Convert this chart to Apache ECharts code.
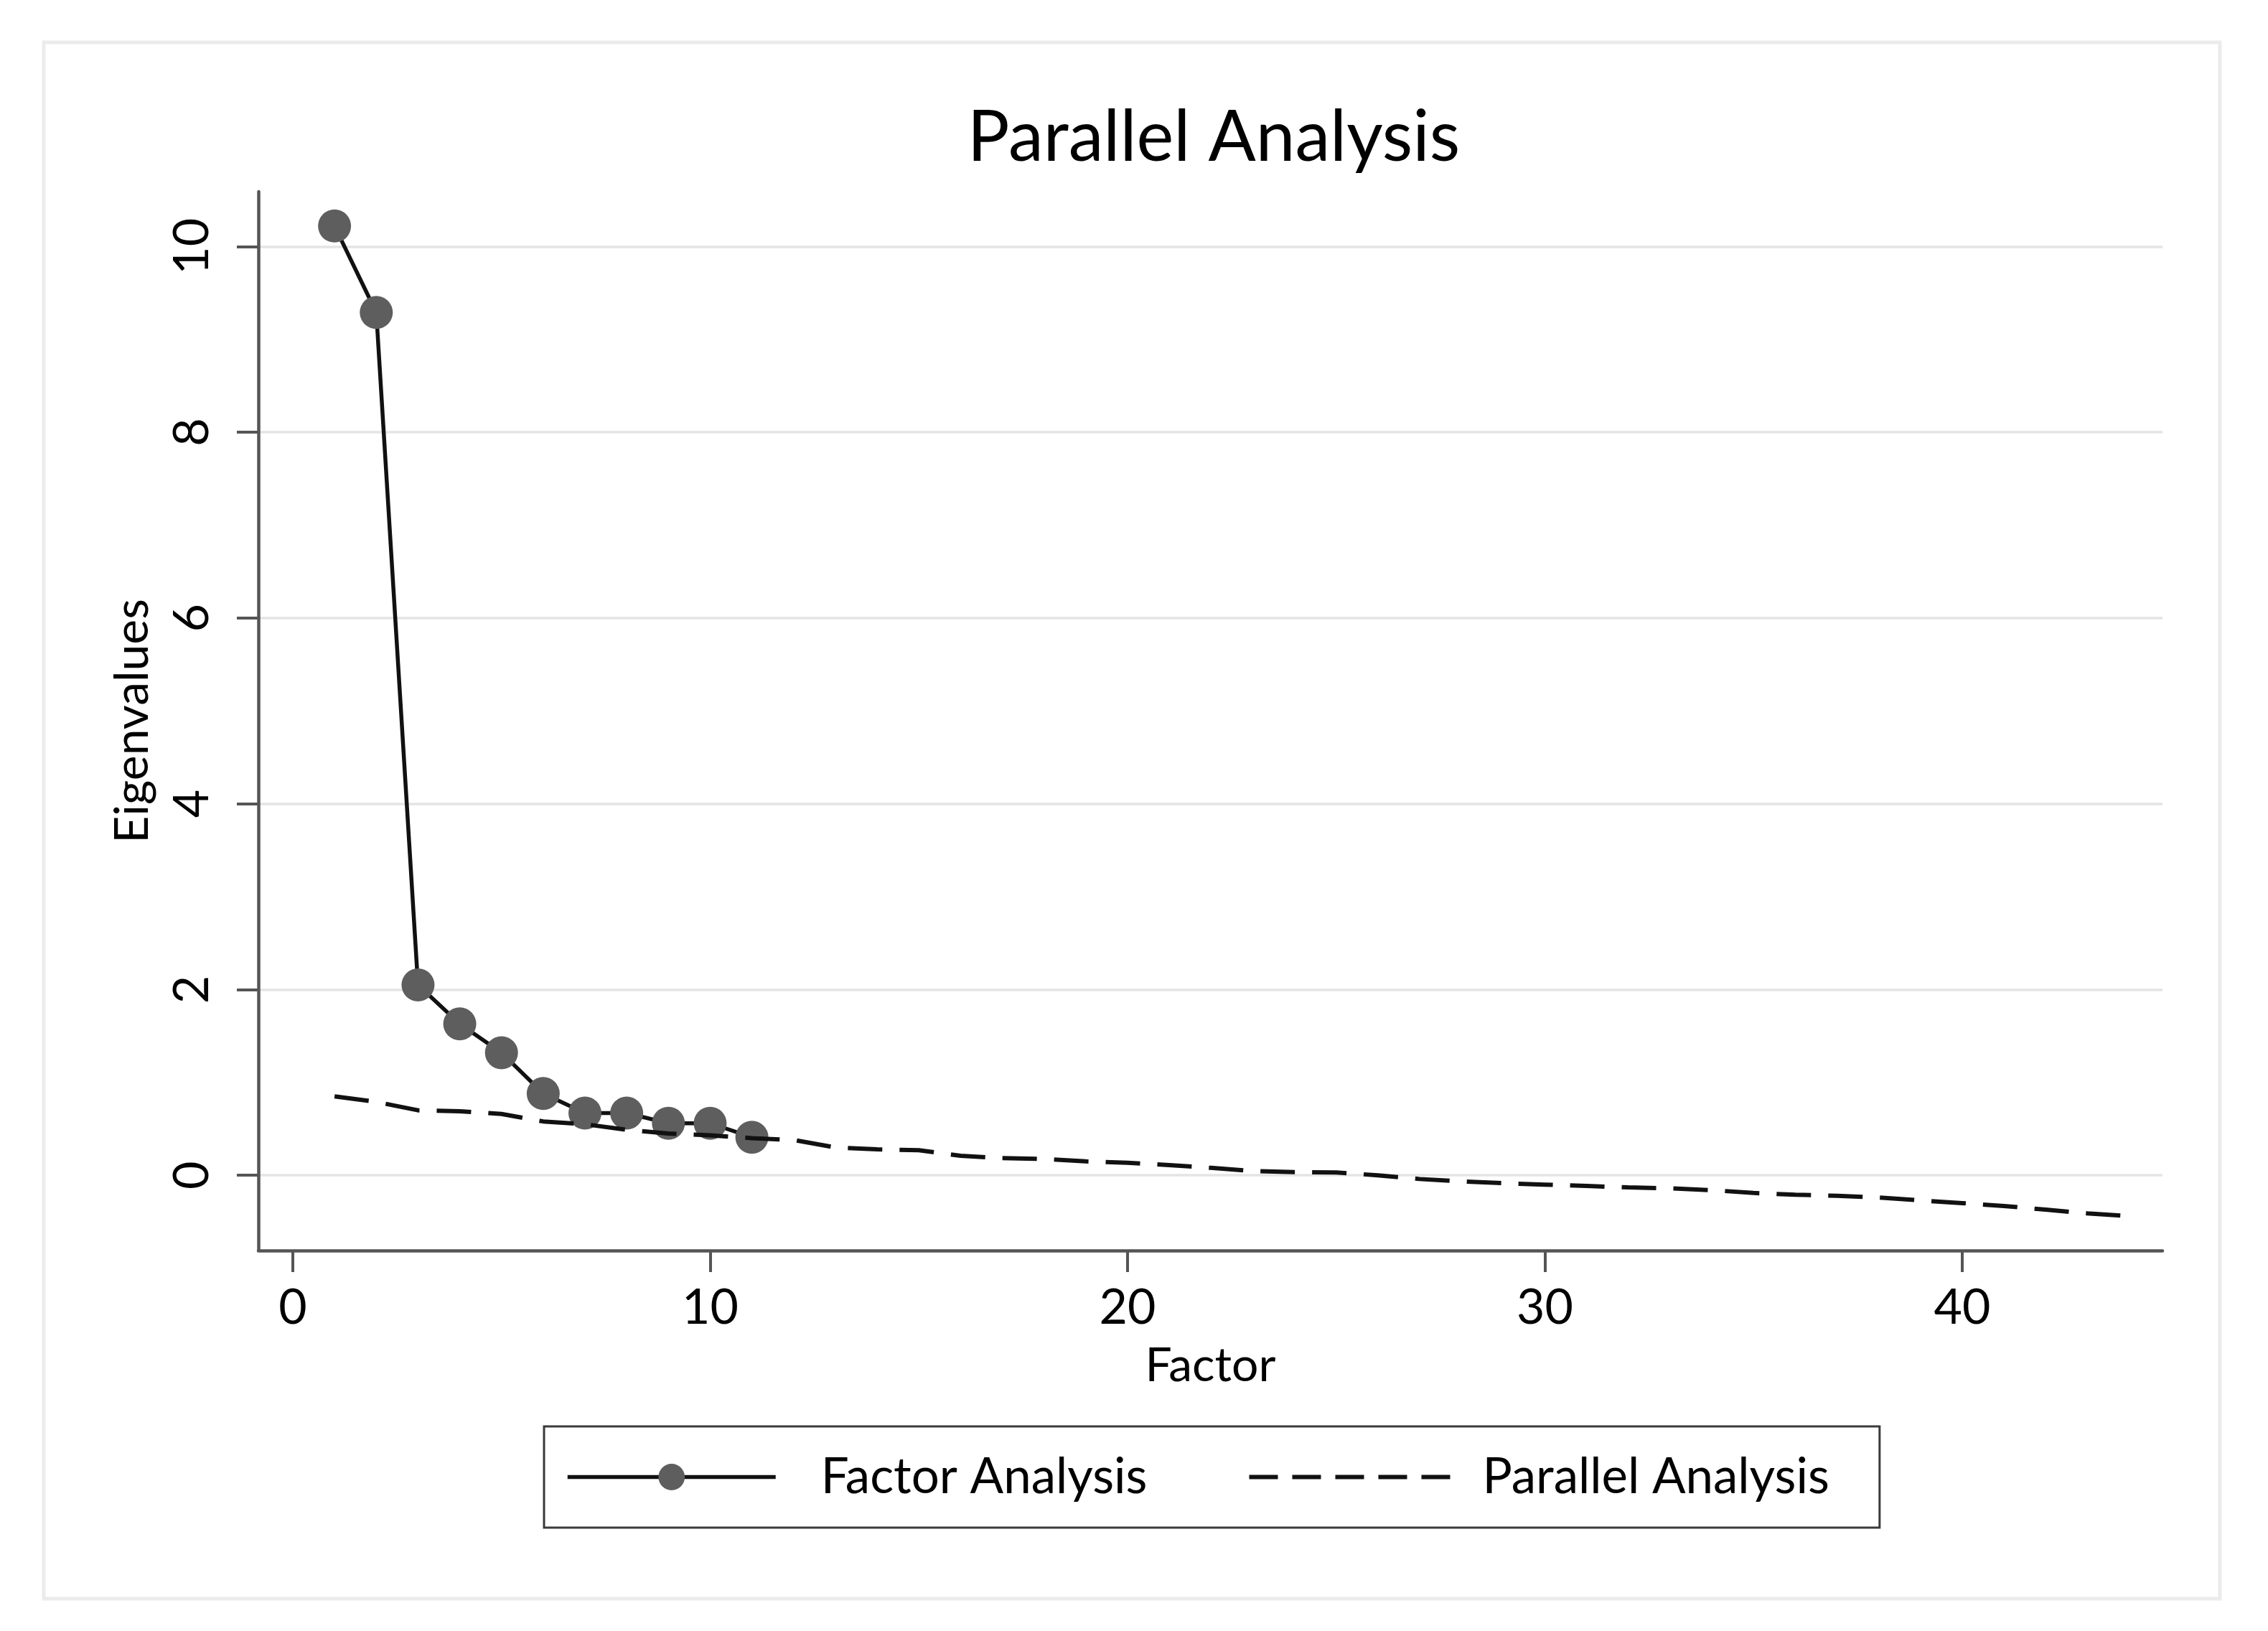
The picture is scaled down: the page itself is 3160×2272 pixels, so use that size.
<!DOCTYPE html>
<html>
<head>
<meta charset="utf-8">
<script src="https://cdn.jsdelivr.net/npm/echarts@6/dist/echarts.min.js"></script>
<style>
html,body{margin:0;padding:0;background:#fff;}
#chart{width:3160px;height:2272px;}
</style>
</head>
<body>
<div id="chart"></div>
<script>
const factors = [1,2,3,4,5,6,7,8,9,10,11];
const factorEigen = [10.22,9.29,2.05,1.63,1.32,0.88,0.67,0.67,0.56,0.56,0.41];
const parallelFactors = [1,2,3,4,5,6,7,8,9,10,11,12,13,14,15,16,17,18,19,20,21,22,23,24,25,26,27,28,29,30,31,32,33,34,35,36,37,38,39,40,41,42,43,44];
const parallelEigen = [0.85,0.79,0.70,0.69,0.66,0.58,0.55,0.49,0.45,0.43,0.40,0.38,0.30,0.28,0.27,0.21,0.185,0.175,0.15,0.135,0.11,0.08,0.045,0.035,0.03,0.0,-0.04,-0.065,-0.085,-0.10,-0.115,-0.13,-0.14,-0.16,-0.19,-0.21,-0.22,-0.24,-0.27,-0.30,-0.33,-0.37,-0.41,-0.44];
const xTicks = [0,10,20,30,40];
const yTicks = [0,2,4,6,8,10];
const seriesNames = ['Factor Analysis','Parallel Analysis'];

const FONT = 'Lato';
const chart = echarts.init(document.getElementById('chart'), null, {renderer:'canvas'});
const option = {
  backgroundColor:'#ffffff',
  animation:false,
  graphic:[{
    type:'rect', z:-10,
    shape:{x:61,y:59,width:3032,height:2168},
    style:{fill:'#ffffff',stroke:'#ebebeb',lineWidth:5}
  }],
  title:{
    text:'Parallel Analysis',
    left:1686, top:138, textAlign:'center',
    textStyle:{fontFamily:FONT,fontSize:98,fontWeight:'normal',color:'#000'}
  },
  legend:{
    data:[
      {name:seriesNames[0], lineStyle:{width:5.5,color:'#111',type:'solid'},
       textStyle:{padding:[0,0,0,58]}},
      {name:seriesNames[1], lineStyle:{width:6,color:'#111',type:[40,20]},
       itemStyle:{color:'rgba(0,0,0,0)',borderWidth:0,opacity:0},
       textStyle:{padding:[0,0,0,30]}}
    ],
    left:758, top:1987,
    orient:'horizontal',
    padding:[36,70,36,30],
    borderColor:'#3a3a3a', borderWidth:3,
    itemWidth:290, itemHeight:46, itemGap:139,
    textStyle:{fontFamily:FONT,fontSize:69,color:'#000'}
  },
  grid:{left:360,right:147,top:267,bottom:530,containLabel:false},
  xAxis:{
    type:'value', min:-0.825, max:44.8,
    name:'Factor', nameLocation:'middle', nameGap:128,
    nameTextStyle:{fontFamily:FONT,fontSize:66,color:'#000'},
    axisLine:{show:true,onZero:false,lineStyle:{color:'#555',width:4.5}},
    axisTick:{show:true,length:30,customValues:xTicks,lineStyle:{color:'#555',width:4}},
    axisLabel:{customValues:xTicks,margin:46,fontFamily:FONT,fontSize:68,color:'#000'},
    splitLine:{show:false}
  },
  yAxis:{
    type:'value', min:-0.81, max:10.59,
    name:'Eigenvalues', nameLocation:'middle', nameGap:142, nameRotate:90,
    nameTextStyle:{fontFamily:FONT,fontSize:66,color:'#000'},
    axisLine:{show:true,onZero:false,lineStyle:{color:'#555',width:4.5}},
    axisTick:{show:true,length:30,customValues:yTicks,lineStyle:{color:'#555',width:4}},
    axisLabel:{customValues:yTicks,rotate:90,margin:58,fontFamily:FONT,fontSize:68,color:'#000'},
    splitLine:{show:true,lineStyle:{color:'#e4e4e4',width:3.5}}
  },
  series:[
    {
      name:seriesNames[0], type:'line', z:2,
      data:factors.map((f,i)=>[f,factorEigen[i]]),
      symbol:'circle', symbolSize:46,
      itemStyle:{color:'#5e5e5e'},
      lineStyle:{color:'#111',width:5.5}
    },
    {
      name:seriesNames[1], type:'line', z:3,
      data:parallelFactors.map((f,i)=>[f,parallelEigen[i]]),
      showSymbol:false, symbol:'none',
      itemStyle:{color:'#111'},
      lineStyle:{color:'#111',width:6,type:[48,24]}
    }
  ]
};
chart.setOption(option);
</script>
</body>
</html>
